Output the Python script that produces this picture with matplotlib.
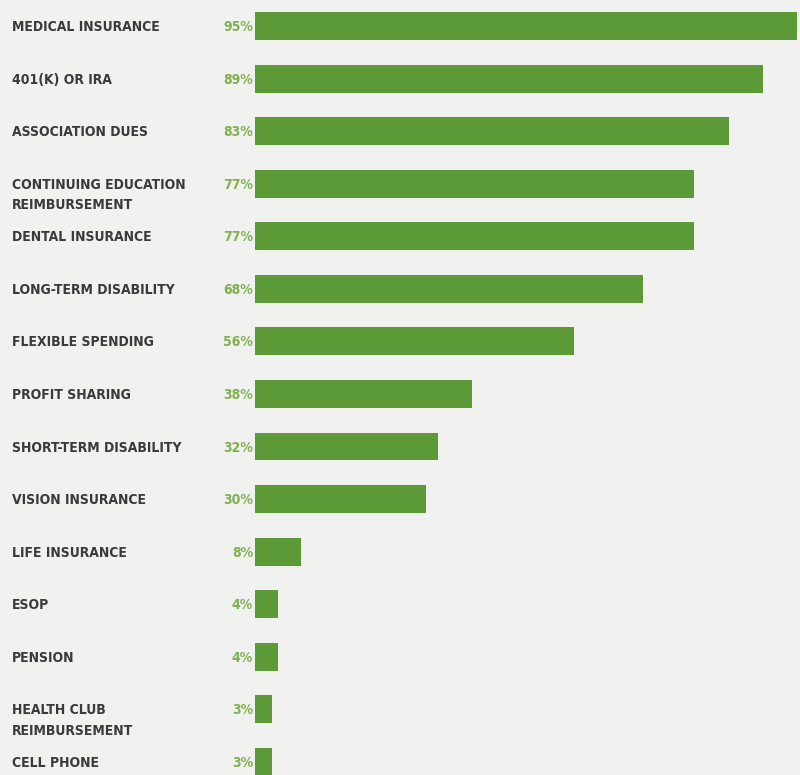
import matplotlib
matplotlib.use("Agg")
import matplotlib.pyplot as plt
import matplotlib.transforms as mtransforms

categories = ["MEDICAL INSURANCE", "401(K) OR IRA", "ASSOCIATION DUES",
              "CONTINUING EDUCATION\nREIMBURSEMENT", "DENTAL INSURANCE",
              "LONG-TERM DISABILITY", "FLEXIBLE SPENDING", "PROFIT SHARING",
              "SHORT-TERM DISABILITY", "VISION INSURANCE", "LIFE INSURANCE",
              "ESOP", "PENSION", "HEALTH CLUB\nREIMBURSEMENT", "CELL PHONE"]
values = [95, 89, 83, 77, 77, 68, 56, 38, 32, 30, 8, 4, 4, 3, 3]

bg = "#f1f1ef"
bar_c = "#5b9a36"
pct_c = "#7fb152"
lab_c = "#3a3a3c"

fig = plt.figure(figsize=(8, 7.75), dpi=100, facecolor=bg)
ax = fig.add_axes([255/800, 0, 1 - 255/800, 1])
ax.set_facecolor(bg)
idx = list(range(len(values)))
ax.barh(idx, values, height=0.53, color=bar_c, edgecolor="none")
ax.set_xlim(0, 545/5.705)
ax.set_ylim(14.25, -0.495)
ax.axis("off")

trans = mtransforms.blended_transform_factory(fig.transFigure, ax.transData)
off = mtransforms.offset_copy(trans, fig=fig, x=0, y=4.3, units="points")
for i, (c, v) in enumerate(zip(categories, values)):
    ax.text(12/800, i, c, transform=off, ha="left", va="top",
            fontsize=10, fontweight="bold", fontstretch="condensed",
            family="DejaVu Sans", color=lab_c, linespacing=1.6)
    ax.text(253/800, i, f"{v}%", transform=off, ha="right", va="top",
            fontsize=10, fontweight="bold", fontstretch="condensed",
            family="DejaVu Sans", color=pct_c)

fig.savefig("out.png", dpi=100, facecolor=bg)
